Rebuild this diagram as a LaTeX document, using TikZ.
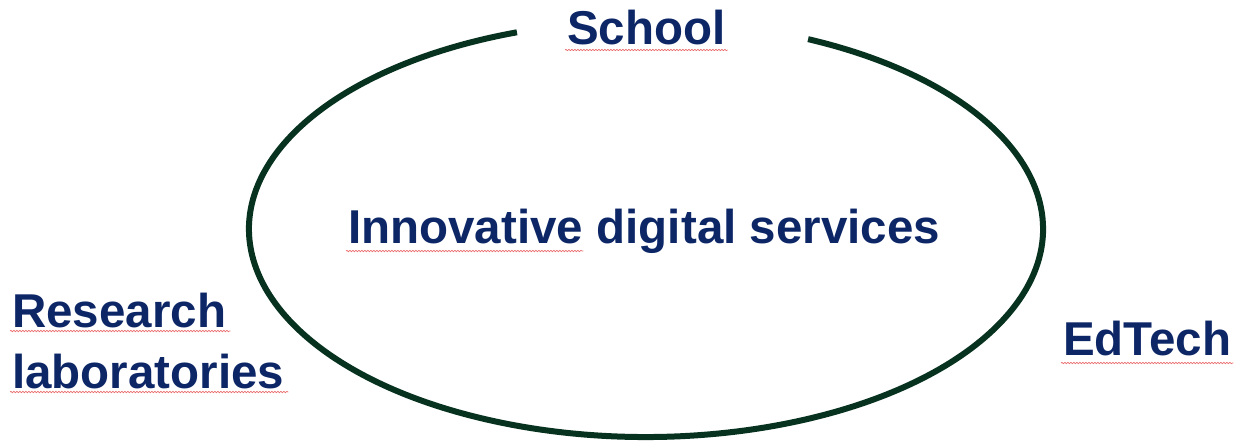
\documentclass[tikz,border=0pt]{standalone}
\usepackage{fontspec}
\setmainfont{Liberation Sans}
\usetikzlibrary{calc,decorations.pathmorphing}
\definecolor{navy}{RGB}{12,38,102}
\definecolor{ringgreen}{RGB}{8,50,32}
\definecolor{squig}{RGB}{235,110,110}
\tikzset{
  lbl/.style={font=\fontsize{47.5}{61}\selectfont\bfseries, text=navy, inner sep=0pt, anchor=base west},
  ring/.style={draw=ringgreen, line width=6pt},
  spell/.style={draw=squig, line width=0.7pt, decorate, decoration={snake, amplitude=0.7pt, segment length=3pt}}
}
\begin{document}
\begin{tikzpicture}[x=1pt,y=-1pt]
\useasboundingbox (0,0) rectangle (1235,444);
\draw[ring] (646,229) ++(-65.9:397 and 208) arc[start angle=-65.9, end angle=251.03, x radius=397, y radius=208];
\node[lbl] (school) at (567,45) {School};
\node[lbl] (inno) at (348,243) {Innovative};
\node[lbl] (dig) at (inno.base east) {\ digital services};
\node[lbl] (res) at (12,327) {Research};
\node[lbl] (lab) at (12,388) {laboratories};
\node[lbl] (ed) at (1063,355) {EdTech};
\draw[spell] ($(school.base west)+(-2,5)$) -- ($(school.base east)+(2,5)$);
\draw[spell] ($(inno.base west)+(-2,8)$) -- ($(inno.base east)+(0,8)$);
\draw[spell] ($(res.base west)+(-2,4)$) -- ($(res.base east)+(4,4)$);
\draw[spell] ($(lab.base west)+(-2,4)$) -- ($(lab.base east)+(4,4)$);
\draw[spell] ($(ed.base west)+(-2,8)$) -- ($(ed.base east)+(2,8)$);
\end{tikzpicture}
\end{document}
